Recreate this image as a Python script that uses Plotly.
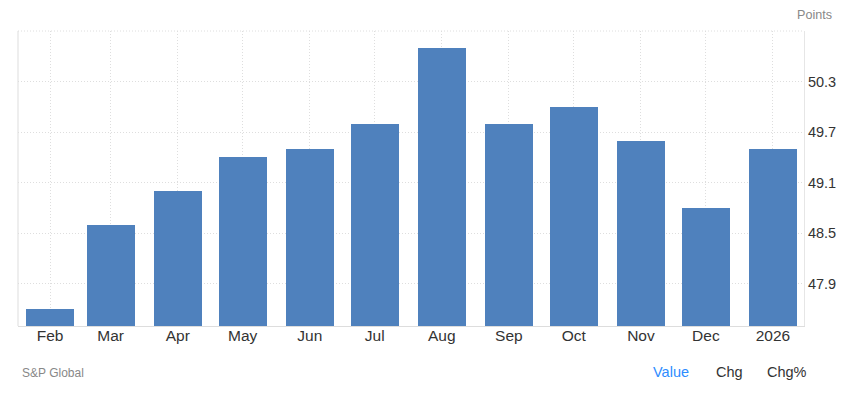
import plotly.graph_objects as go

dates = ["2025-02-01", "2025-03-01", "2025-04-01", "2025-05-01", "2025-06-01", "2025-07-01",
         "2025-08-01", "2025-09-01", "2025-10-01", "2025-11-01", "2025-12-01", "2026-01-01"]
tick_labels = ["Feb", "Mar", "Apr", "May", "Jun", "Jul", "Aug", "Sep", "Oct", "Nov", "Dec", "2026"]
values = [47.6, 48.6, 49.0, 49.4, 49.5, 49.8, 50.7, 49.8, 50.0, 49.6, 48.8, 49.5]
y_ticks = [47.9, 48.5, 49.1, 49.7, 50.3]

DAY_MS = 86400000

fig = go.Figure()
fig.add_trace(go.Bar(
    x=dates, y=values,
    width=[22.2 * DAY_MS] * len(dates),
    marker=dict(color="#4F81BD", line=dict(width=0)),
    hoverinfo="x+y",
))

GRID = "#dedede"
fig.update_layout(
    width=841, height=385,
    margin=dict(l=10, r=45, t=23, b=67),
    paper_bgcolor="white", plot_bgcolor="white",
    font=dict(family="Liberation Sans, Arial, sans-serif", color="#333333"),
    showlegend=False,
    bargap=0,
    xaxis=dict(
        type="date",
        range=["2025-01-17 05:00", "2026-01-15 08:00"],
        tickmode="array", tickvals=dates, ticktext=tick_labels,
        tickfont=dict(size=15.5, color="#333333"),
        ticklabelstandoff=-5,
        showgrid=True, gridcolor=GRID, griddash="1px,2px", gridwidth=1,
        showline=True, linecolor="#dddddd", linewidth=1,
        ticks="", ticklen=0, zeroline=False,
    ),
    yaxis=dict(
        side="right",
        range=[47.4, 50.9],
        tickmode="array", tickvals=y_ticks, ticktext=[f"{v:.1f}" for v in y_ticks],
        tickfont=dict(size=14.5, color="#333333"),
        showgrid=True, gridcolor=GRID, griddash="1px,2px", gridwidth=1,
        showline=True, linecolor="#e6e6e6", linewidth=1,
        ticks="", zeroline=False,
    ),
    shapes=[
        dict(type="line", xref="paper", yref="paper", x0=0, x1=1, y0=1, y1=1,
             line=dict(color=GRID, width=1, dash="1px,2px")),
        dict(type="line", xref="paper", yref="paper", x0=0, x1=0, y0=0, y1=1,
             line=dict(color="#dddddd", width=1)),
    ],
    annotations=[
        dict(text="Points", xref="paper", yref="paper", x=1.0, y=1.0, xanchor="left", yanchor="bottom",
             xshift=-9, yshift=7, showarrow=False, font=dict(size=12.6, color="#888888")),
        dict(text="S&P Global", xref="paper", yref="paper", x=0, y=0, xanchor="left", yanchor="middle",
             xshift=2, yshift=-47, showarrow=False, font=dict(size=12, color="#888888")),
        dict(text="Value", xref="paper", yref="paper", x=0, y=0, xanchor="left", yanchor="middle",
             xshift=633, yshift=-46, showarrow=False, font=dict(size=14.5, color="#2d8cff")),
        dict(text="Chg", xref="paper", yref="paper", x=0, y=0, xanchor="left", yanchor="middle",
             xshift=696, yshift=-46, showarrow=False, font=dict(size=14.5, color="#333333")),
        dict(text="Chg%", xref="paper", yref="paper", x=0, y=0, xanchor="left", yanchor="middle",
             xshift=747, yshift=-46, showarrow=False, font=dict(size=14.5, color="#333333")),
    ],
)

fig.write_html("out.html")
